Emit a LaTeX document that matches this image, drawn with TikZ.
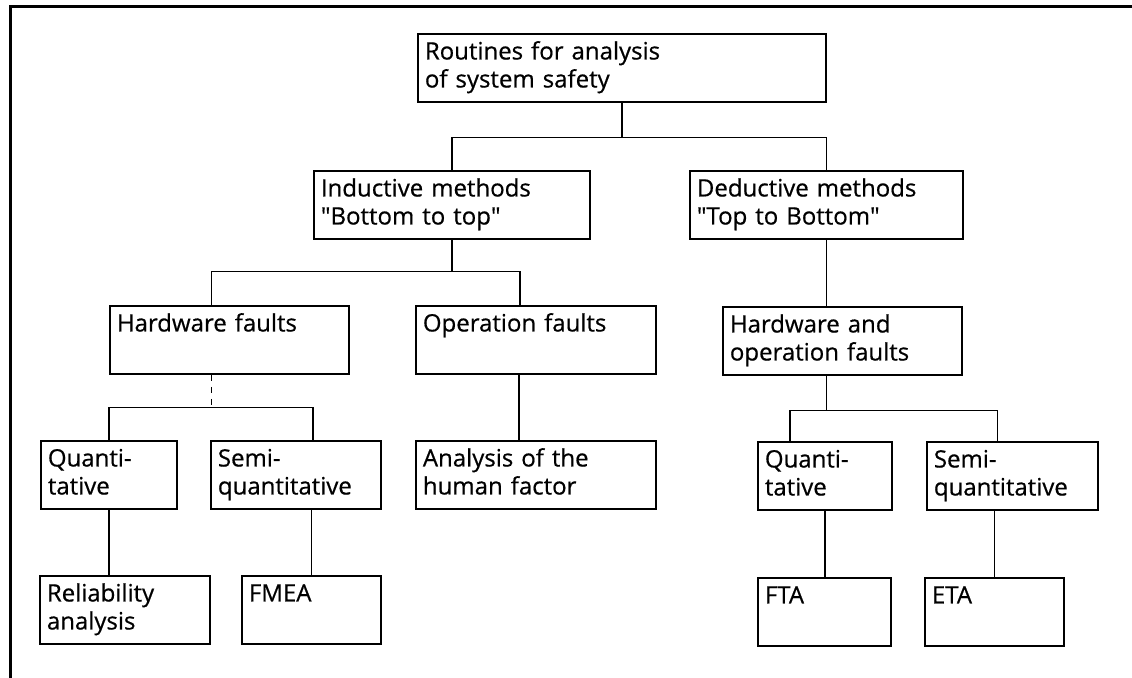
\documentclass[tikz,border=0pt]{standalone}
\usepackage{fontspec}
\setmainfont{Open Sans}[FakeBold=0.6]
\usetikzlibrary{calc}
\tikzset{
  box/.style={draw, line width=0.9pt, anchor=north west, align=left,
    inner xsep=3.5pt, inner ysep=0pt, minimum height=34pt, text width=#1,
    font=\fontsize{12}{14}\selectfont},
  link/.style={line width=0.65pt}
}
\newcommand{\twolines}[2]{\strut #1\\\strut #2}
\newcommand{\qq}{\textquotedbl}
\begin{document}
\begin{tikzpicture}[x=0.5pt,y=-0.5pt]
\useasboundingbox (0,0) rectangle (1132,678);
\draw [line width=1.5pt] (1132,7) -- (10,7) -- (10,678);

\node [box=197pt] (root) at (417,33) {\twolines{Routines for analysis}{of system safety}};

\node [box=131pt] (ind) at (313,170) {\twolines{Inductive methods}{\qq Bottom to top\qq}};
\node [box=129.5pt] (ded) at (689,170) {\twolines{Deductive methods}{\qq Top to Bottom\qq}};

\node [box=112.5pt] (hw) at (109,305) {\twolines{Hardware faults}{}};
\node [box=113pt] (op) at (415,305) {\twolines{Operation faults}{}};
\node [box=112.5pt] (hwop) at (722,306) {\twolines{Hardware and}{operation faults}};

\node [box=61pt] (qL) at (40,440) {\twolines{Quanti-}{tative}};
\node [box=78pt] (sL) at (210,440) {\twolines{Semi-}{quantitative}};
\node [box=113pt] (an) at (415,440) {\twolines{Analysis of the}{human factor}};
\node [box=60pt] (qR) at (757,441) {\twolines{Quanti-}{tative}};
\node [box=78.5pt] (sR) at (926,441) {\twolines{Semi-}{quantitative}};

\node [box=78pt] (rel) at (39,575) {\twolines{Reliability}{analysis}};
\node [box=62.5pt] (fmea) at (241,575) {\twolines{FMEA}{}};
\node [box=59.5pt] (fta) at (757,577) {\twolines{FTA}{}};
\node [box=62.5pt] (eta) at (924,577) {\twolines{ETA}{}};

\draw [link] (root.south) -- ++(0,35) coordinate (r1) -| (ind.north);
\draw [link] (r1) -| (ded.north);
\draw [link] (ind.south) -- ++(0,32) coordinate (i1) -| ($(hw.north)+(-18,0)$);
\draw [link] (i1) -| ($(op.north)+(-16,0)$);
\draw [link, dashed] ($(hw.south)+(-18,0)$) -- ++(0,33) coordinate (h1);
\draw [link] (h1) -| (qL.north);
\draw [link] (h1) -| ($(sL.north)+(17,0)$);
\draw [link] ($(op.south)+(-17,0)$) -- ($(an.north)+(-17,0)$);
\draw [link] (ded.south) -- (ded.south |- hwop.north);
\draw [link] (ded.south |- hwop.south) -- ++(0,35) coordinate (d1) -| ($(qR.north)+(-35,0)$);
\draw [link] (d1) -| ($(sR.north)+(-15,0)$);
\draw [link] (qL.south) -- (qL.south |- rel.north);
\draw [link] (fmea.north |- sL.south) -- (fmea.north);
\draw [link] (qR.south) -- (qR.south |- fta.north);
\draw [link] (eta.north |- sR.south) -- (eta.north);
\end{tikzpicture}
\end{document}
